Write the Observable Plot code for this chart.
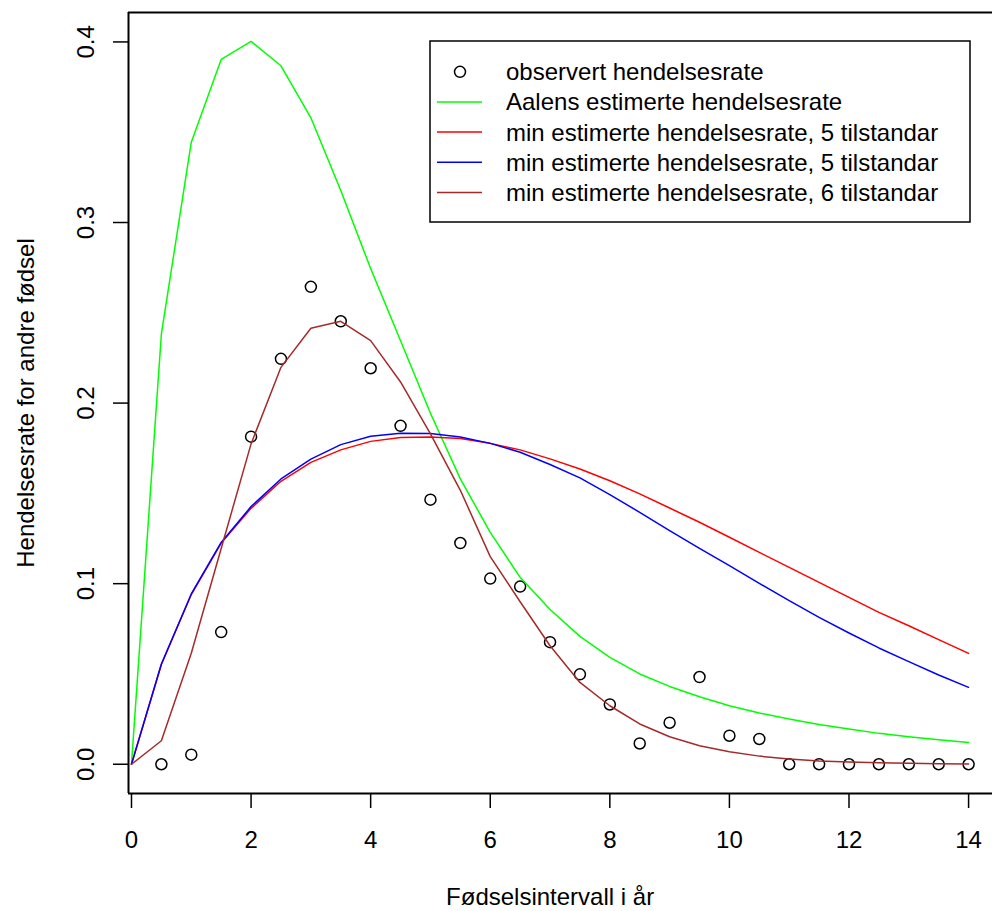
<!DOCTYPE html>
<html>
<head>
<meta charset="utf-8">
<script src="https://cdn.jsdelivr.net/npm/d3@7"></script>
<script src="https://cdn.jsdelivr.net/npm/@observablehq/plot@0.6"></script>
<style>
  html, body { margin: 0; padding: 0; background: #fff; }
  #chart { position: relative; width: 992px; height: 911px; overflow: hidden; }
</style>
</head>
<body>
<div id="chart"></div>
<script>
// ---- data ----
const xGrid = [0, 0.5, 1, 1.5, 2, 2.5, 3, 3.5, 4, 4.5, 5, 5.5, 6, 6.5, 7, 7.5, 8, 8.5, 9, 9.5, 10, 10.5, 11, 11.5, 12, 12.5, 13, 13.5, 14];
const obsX = [0.5, 1, 1.5, 2, 2.5, 3, 3.5, 4, 4.5, 5, 5.5, 6, 6.5, 7, 7.5, 8, 8.5, 9, 9.5, 10, 10.5, 11, 11.5, 12, 12.5, 13, 13.5, 14];
const observed = [0, 0.0053, 0.0732, 0.1814, 0.2245, 0.2644, 0.2453, 0.2193, 0.1874, 0.1465, 0.1225, 0.1028, 0.0984, 0.0676, 0.0498, 0.0331, 0.0115, 0.0230, 0.0483, 0.0158, 0.0140, 0, 0, 0, 0, 0, 0, 0];
const aalen = [0, 0.2383, 0.3445, 0.3903, 0.4003, 0.3868, 0.3580, 0.3177, 0.2745, 0.2345, 0.1944, 0.1580, 0.1284, 0.1035, 0.0857, 0.0708, 0.0592, 0.0500, 0.0431, 0.0374, 0.0324, 0.0284, 0.0250, 0.0220, 0.0195, 0.0171, 0.0152, 0.0136, 0.0121];
const min5a = [0, 0.0552, 0.0940, 0.1225, 0.1417, 0.1567, 0.1672, 0.1741, 0.1788, 0.1809, 0.1812, 0.1804, 0.1777, 0.1741, 0.1691, 0.1635, 0.1570, 0.1497, 0.1419, 0.1340, 0.1257, 0.1173, 0.1090, 0.1007, 0.0924, 0.0841, 0.0767, 0.0690, 0.0614];
const min5b = [0, 0.0555, 0.0943, 0.1228, 0.1427, 0.1580, 0.1690, 0.1770, 0.1816, 0.1833, 0.1831, 0.1812, 0.1777, 0.1728, 0.1660, 0.1586, 0.1493, 0.1395, 0.1294, 0.1196, 0.1100, 0.1002, 0.0906, 0.0813, 0.0727, 0.0644, 0.0568, 0.0494, 0.0426];
const min6 = [0, 0.0130, 0.0615, 0.1195, 0.1774, 0.2198, 0.2414, 0.2453, 0.2346, 0.2117, 0.1830, 0.1517, 0.1150, 0.0900, 0.0656, 0.0453, 0.0324, 0.0223, 0.0152, 0.0102, 0.0069, 0.0045, 0.0029, 0.0018, 0.0012, 0.0008, 0.0005, 0.0003, 0.0002];

const xTicks = [0, 2, 4, 6, 8, 10, 12, 14];
const xTickLabels = ["0", "2", "4", "6", "8", "10", "12", "14"];
const yTicks = [0, 0.1, 0.2, 0.3, 0.4];
const yTickLabels = ["0.0", "0.1", "0.2", "0.3", "0.4"];

const xLabel = "Fødselsintervall i år";
const yLabel = "Hendelsesrate for andre fødsel";

const seriesNames = [
  "observert hendelsesrate",
  "Aalens estimerte hendelsesrate",
  "min estimerte hendelsesrate, 5 tilstandar",
  "min estimerte hendelsesrate, 5 tilstandar",
  "min estimerte hendelsesrate, 6 tilstandar"
];
const seriesColors = ["black", "#00ff00", "#ff0000", "#0000ff", "#a52a2a"];

// ---- build tables ----
const toRows = (ys) => xGrid.map((x, i) => ({x, y: ys[i]}));
const obsRows = obsX.map((x, i) => ({x, y: observed[i]}));
const lineSets = [aalen, min5a, min5b, min6];

const xDomain = [-0.05, 14.4];
const yDomain = [-0.0162, 0.4163];
const FONT = "Liberation Sans, Arial, Helvetica, sans-serif";
const FS = 24;

const plot = Plot.plot({
  width: 992,
  height: 911,
  marginLeft: 128,
  marginRight: 0,
  marginTop: 12,
  marginBottom: 118,
  style: {background: "#fff", fontFamily: FONT, fontSize: FS + "px", color: "black", overflow: "visible"},
  x: {domain: xDomain, axis: null},
  y: {domain: yDomain, axis: null},
  marks: [
    // ticks
    Plot.axisX({ticks: xTicks, tickSize: 15, tickFormat: () => "", label: null, strokeWidth: 1.5, anchor: "bottom"}),
    Plot.axisY({ticks: yTicks, tickSize: 15, tickFormat: () => "", label: null, strokeWidth: 1.5, anchor: "left"}),
    // tick labels
    Plot.text(xTicks, {x: d => d, text: (d, i) => xTickLabels[i], frameAnchor: "bottom", lineAnchor: "top", dy: 37, fontSize: FS, fill: "black"}),
    Plot.text(yTicks, {y: d => d, text: (d, i) => yTickLabels[i], frameAnchor: "left", textAnchor: "middle", rotate: -90, lineAnchor: "bottom", dx: -35, fontSize: FS, fill: "black"}),
    // axis titles
    Plot.text([xLabel], {text: d => d, frameAnchor: "bottom", textAnchor: "middle", lineAnchor: "bottom", dy: 111, dx: -10.4, fontSize: FS, fill: "black"}),
    Plot.text([yLabel], {text: d => d, frameAnchor: "left", textAnchor: "middle", rotate: -90, lineAnchor: "bottom", dx: -94.5, fontSize: FS, fill: "black"}),
    // frame (left, top, bottom)
    Plot.ruleX([xDomain[0]], {stroke: "black", strokeWidth: 2}),
    Plot.ruleY([yDomain[1], yDomain[0]], {stroke: "black", strokeWidth: 2}),
    // observed points
    Plot.dot(obsRows, {x: "x", y: "y", r: 5.5, stroke: "black", strokeWidth: 1.5, fill: "none"}),
    // estimated lines
    ...lineSets.map((ys, k) => Plot.line(toRows(ys), {x: "x", y: "y", stroke: seriesColors[k + 1], strokeWidth: 1.5}))
  ]
});

document.getElementById("chart").appendChild(plot);

// ---- legend (inside the plot area, top-right) ----
const svg = d3.select(plot);
const lg = svg.append("g").attr("font-family", FONT).attr("font-size", FS).attr("text-anchor", "start");
const box = {left: 430, top: 41, right: 970, bottom: 222};
lg.append("rect")
  .attr("x", box.left).attr("y", box.top)
  .attr("width", box.right - box.left).attr("height", box.bottom - box.top)
  .attr("fill", "white").attr("stroke", "black").attr("stroke-width", 1.5);
const rowY0 = 71.8, rowStep = 30.15;
seriesNames.forEach((name, i) => {
  const cy = rowY0 + i * rowStep;
  if (i === 0) {
    lg.append("circle").attr("cx", 460).attr("cy", cy).attr("r", 5.5)
      .attr("fill", "none").attr("stroke", seriesColors[i]).attr("stroke-width", 1.5);
  } else {
    lg.append("line").attr("x1", 437).attr("x2", 482).attr("y1", cy).attr("y2", cy)
      .attr("stroke", seriesColors[i]).attr("stroke-width", 1.5);
  }
  lg.append("text").attr("x", 506).attr("y", cy).attr("dy", "0.35em")
    .attr("text-anchor", "start").attr("fill", "black").text(name);
});
</script>
</body>
</html>
